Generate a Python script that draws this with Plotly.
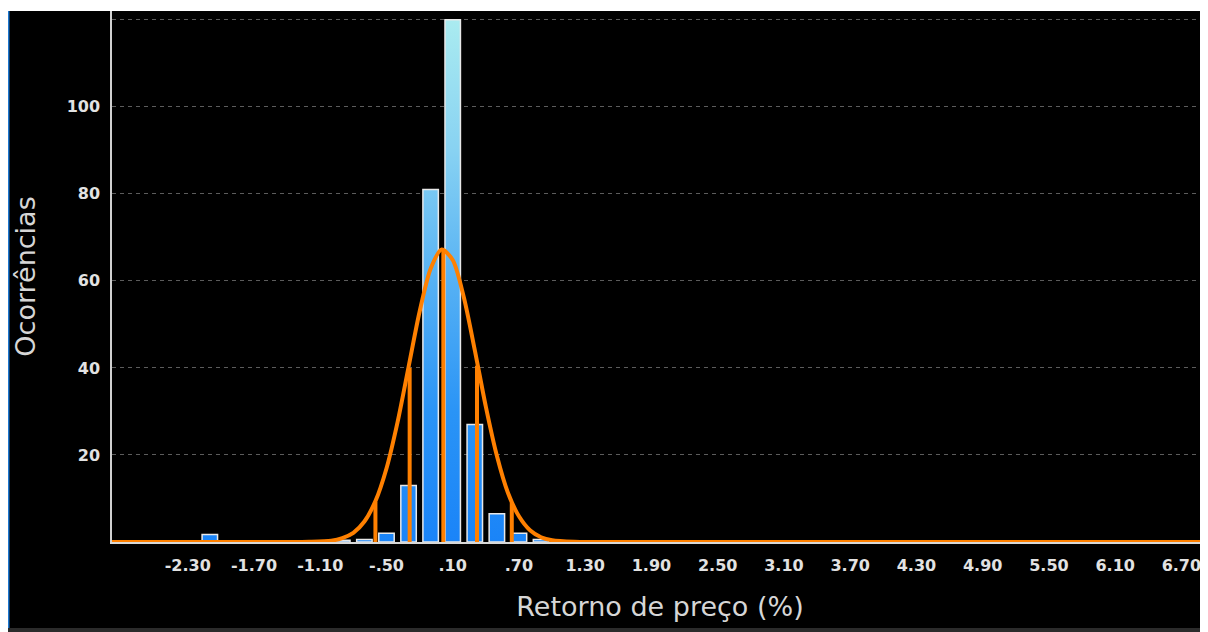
import plotly.graph_objects as go

# ---------------- data ----------------
bin_centers = [-2.1, -1.5, -1.1, -0.9, -0.7, -0.5, -0.3, -0.1, 0.1, 0.3, 0.5, 0.7, 0.9, 1.7]
bin_counts = [1.7, 0.3, 0.3, 0.4, 0.6, 2, 13, 81, 120, 27, 6.5, 2, 0.6, 0.3]

curve_x = [-3.0, -1.4, -1.2, -1.0, -0.9, -0.8, -0.7, -0.6, -0.5, -0.4, -0.3, -0.2, -0.1,
           0.0, 0.1, 0.2, 0.3, 0.4, 0.5, 0.6, 0.7, 0.8, 0.9, 1.0, 1.2, 1.4, 7.0]
curve_y = [0, 0, 0.05, 0.3, 0.9, 2.1, 4.7, 9.4, 16.9, 27.5, 40.2, 52.9, 62.8,
           67.2, 64.8, 56.3, 44.1, 31.1, 19.8, 11.3, 5.9, 2.7, 1.1, 0.4, 0.05, 0, 0]

sd_lines_x = [-0.60, -0.29, 0.015, 0.32, 0.635]
sd_lines_top = [9.2, 40.0, 67.3, 40.5, 9.0]

x_tick_vals = [-2.3, -1.7, -1.1, -0.5, 0.1, 0.7, 1.3, 1.9, 2.5, 3.1, 3.7, 4.3, 4.9, 5.5, 6.1, 6.7]
x_tick_text = ["-2.30", "-1.70", "-1.10", "-.50", ".10", ".70", "1.30", "1.90", "2.50",
               "3.10", "3.70", "4.30", "4.90", "5.50", "6.10", "6.70"]
y_tick_vals = [20, 40, 60, 80, 100, 120]
y_tick_text = ["20", "40", "60", "80", "100", ""]

x_title = "Retorno de preço (%)"
y_title = "Ocorrências"

# ---------------- styling ----------------
X_RANGE = [-2.986, 6.941]
Y_RANGE = [0, 122]
BAR_W = 0.14
ORANGE = "#ff8000"
TXT = "#e2e2e2"
FONT = "DejaVu Sans"

W, H = 1200, 632
ML, MR, MT, MB = 104, 0, 3, 98
PW, PH = W - ML - MR, H - MT - MB


def fx(px):  # figure pixel -> paper x
    return (px - ML) / PW


def fy(py):  # figure pixel -> paper y
    return (MT + PH - py) / PH


fig = go.Figure()

grad = dict(type="vertical", start=0, stop=120,
            colorscale=[[0, "#1a84f8"], [0.25, "#2a94f6"], [0.5, "#56b1f4"],
                        [0.75, "#88d2f2"], [1, "#aaebf0"]])

for c, h in zip(bin_centers, bin_counts):
    x0, x1 = c - BAR_W / 2, c + BAR_W / 2
    fig.add_trace(go.Scatter(
        x=[x0, x0, x1, x1, x0], y=[0, h, h, 0, 0],
        mode="lines", fill="toself", fillgradient=grad,
        line=dict(color="#e8e8e8", width=1.5),
        hoverinfo="skip", showlegend=False))

for sx, st in zip(sd_lines_x, sd_lines_top):
    fig.add_trace(go.Scatter(x=[sx, sx], y=[0, st], mode="lines",
                             line=dict(color=ORANGE, width=4),
                             hoverinfo="skip", showlegend=False))

fig.add_trace(go.Scatter(x=curve_x, y=curve_y, mode="lines",
                         line=dict(color=ORANGE, width=4, shape="spline", smoothing=0.8),
                         hoverinfo="skip", showlegend=False))

# triangle tick markers
px_x = (X_RANGE[1] - X_RANGE[0]) / PW
px_y = (Y_RANGE[1] - Y_RANGE[0]) / PH
fig.add_trace(go.Scatter(x=x_tick_vals, y=[Y_RANGE[0] - 6 * px_y] * len(x_tick_vals),
                         mode="markers", cliponaxis=False,
                         marker=dict(symbol="triangle-down", size=8, color="#f2f2f2"),
                         hoverinfo="skip", showlegend=False))
fig.add_trace(go.Scatter(x=[X_RANGE[0] - 5 * px_x] * 5, y=y_tick_vals[:5],
                         mode="markers", cliponaxis=False,
                         marker=dict(symbol="triangle-left", size=8, color="#f2f2f2"),
                         hoverinfo="skip", showlegend=False))

# frame decorations: thin white top strip, blue left edge, grey bottom strip
shapes = [
    dict(type="rect", xref="paper", yref="paper", x0=fx(0), x1=fx(W), y0=fy(3), y1=fy(-1),
         fillcolor="white", line=dict(width=0), layer="above"),
    dict(type="rect", xref="paper", yref="paper", x0=fx(-0.5), x1=fx(1.5), y0=fy(620), y1=fy(3),
         fillcolor="#1e78d0", line=dict(width=0), layer="above"),
    dict(type="rect", xref="paper", yref="paper", x0=fx(0), x1=fx(W),
         y0=fy(H + 1), y1=fy(620), fillcolor="#2b2b2b", line=dict(width=0), layer="above"),
]

fig.update_layout(
    width=W, height=H,
    margin=dict(l=ML, r=MR, t=MT, b=MB, autoexpand=False),
    paper_bgcolor="black", plot_bgcolor="black",
    shapes=shapes,
    xaxis=dict(range=X_RANGE, tickvals=x_tick_vals, ticktext=x_tick_text,
               showgrid=False, zeroline=False, showline=True, linecolor="#d8d8d8", linewidth=1.6,
               ticks="outside", ticklen=8, tickcolor="rgba(0,0,0,0)",
               tickfont=dict(family=FONT, size=16, color=TXT, weight="bold"),
               title=dict(text=x_title, standoff=23, font=dict(family=FONT, size=27, color="#d6d6d6")),
               automargin=False),
    yaxis=dict(range=Y_RANGE, tickvals=y_tick_vals, ticktext=y_tick_text,
               showgrid=True, gridcolor="#5c5c5c", gridwidth=1, griddash="4px,4px",
               zeroline=False, showline=True, linecolor="#d0d0d0", linewidth=1.5,
               ticks="outside", ticklen=7, tickcolor="rgba(0,0,0,0)",
               tickfont=dict(family=FONT, size=16, color=TXT, weight="bold"),
               title=dict(text=y_title, standoff=23, font=dict(family=FONT, size=27, color="#d6d6d6")),
               automargin=False),
)

fig.write_html("out.html")
